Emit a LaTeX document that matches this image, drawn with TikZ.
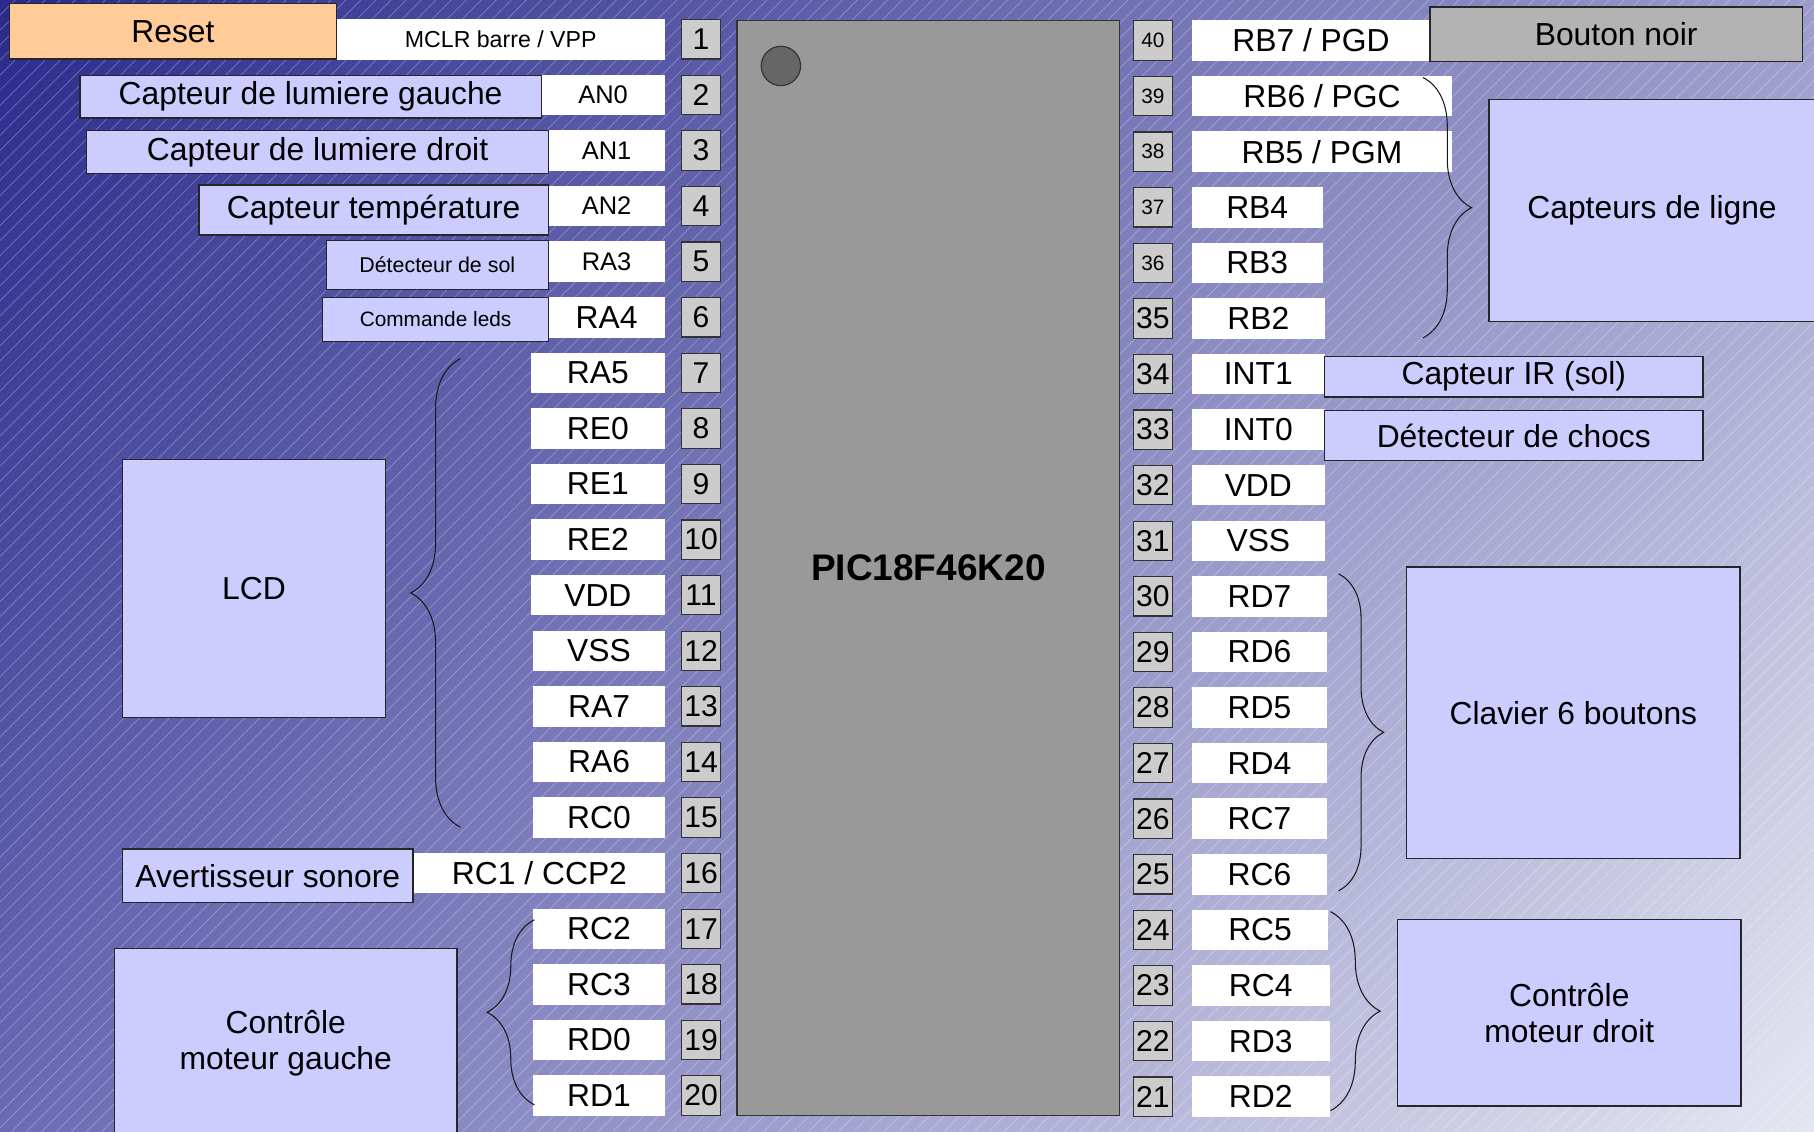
\documentclass[tikz,border=0pt]{standalone}
\usepackage{fontspec}
\setmainfont{Liberation Sans}
\usepackage{xcolor}
\usetikzlibrary{
  positioning, calc,
  decorations.pathreplacing, shadings
}
\definecolor{fondA}{RGB}{42,42,140}
\definecolor{fondB}{RGB}{156,156,204}
\definecolor{fondC}{RGB}{106,106,180}
\definecolor{fondD}{RGB}{230,230,242}
\definecolor{peche}{HTML}{FFCC99}
\definecolor{lavande}{HTML}{CCCCFF}
\definecolor{grisbouton}{HTML}{B3B3B3}
\definecolor{grispuce}{HTML}{999999}
\definecolor{grisnum}{HTML}{CCCCCC}
\tikzset{
  hachure/.style={white, opacity=0.3, line width=0.6pt},
  puce/.style={
    rectangle, draw=black!80, line width=1pt, fill=grispuce,
    minimum width=331, minimum height=946, inner sep=0pt,
    font=\fontsize{32}{32}\selectfont\bfseries
  },
  repere/.style={
    circle, draw=black!80, line width=1pt, fill=black!60,
    minimum size=34, inner sep=0pt
  },
  pinnum/.style={
    rectangle, draw=black!80, line width=1pt, fill=grisnum,
    minimum width=34, minimum height=34, inner sep=0pt,
    font=\fontsize{#1}{#1}\selectfont
  },
  pinnum/.default=26,
  pinnom/.style={
    rectangle, fill=white, minimum height=35, inner sep=0pt,
    font=\fontsize{#1}{#1}\selectfont
  },
  fonc/.style={
    rectangle, draw=black!85, line width=1.2pt, fill=#1,
    inner sep=0pt, align=center,
    font=\fontsize{27.5}{31}\selectfont
  },
  fonc/.default=lavande,
  accolade/.style={
    decorate, decoration={brace, amplitude=#1}, draw=black!90,
    line width=0.9pt
  }
}

\begin{document}
\begin{tikzpicture}[x=1pt, y=-1pt]
  \clip (0,0) rectangle (1568,978);
  % fond
  \shade[upper left=fondA, upper right=fondB,
         lower left=fondC, lower right=fondD] (0,0) rectangle (1568,978);
  \foreach \c in {-978,-965,...,1568}
    \draw[hachure] (\c,978) -- ++(978,-978);

  % circuit
  \node[puce] (chip) at (802.5,491) {PIC18F46K20};
  \node[repere] (dot) at (675,57) {};

  % broches de gauche
  \foreach \num/\lbl/\xl/\fs in {
    1/{MCLR barre / VPP}/291/20, 2/AN0/468/22, 3/AN1/474/22,
    4/AN2/474/22, 5/RA3/474/22, 6/RA4/474/27.5,
    7/RA5/459/27.5, 8/RE0/459/27.5, 9/RE1/459/27.5,
    10/RE2/459/27.5, 11/VDD/459/27.5, 12/VSS/461/27.5,
    13/RA7/461/27.5, 14/RA6/461/27.5, 15/RC0/461/27.5,
    16/{RC1 / CCP2}/358/27.5, 17/RC2/461/27.5, 18/RC3/461/27.5,
    19/RD0/461/27.5, 20/RD1/461/27.5}{
    \pgfmathsetmacro\yy{34+48.05*(\num-1)}
    \node[pinnum] (n\num) at (606,\yy) {\num};
    \node[pinnom=\fs, anchor=east, minimum width=575-\xl]
      (p\num) at (575,\yy) {\lbl};
  }

  % broches de droite
  \foreach \num/\lbl/\xr/\nf in {
    40/{RB7 / PGD}/1236/18, 39/{RB6 / PGC}/1255/18,
    38/{RB5 / PGM}/1255/18, 37/RB4/1143/18, 36/RB3/1143/18,
    35/RB2/1145/26, 34/INT1/1145/26, 33/INT0/1145/26,
    32/VDD/1145/26, 31/VSS/1145/26, 30/RD7/1147/26,
    29/RD6/1147/26, 28/RD5/1147/26, 27/RD4/1147/26,
    26/RC7/1147/26, 25/RC6/1147/26, 24/RC5/1148/26,
    23/RC4/1149/26, 22/RD3/1149/26, 21/RD2/1149/26}{
    \pgfmathsetmacro\yy{35+48.05*(40-\num)}
    \node[pinnum=\nf] (n\num) at (996.5,\yy) {\num};
    \node[pinnom=27.5, anchor=west, minimum width=\xr-1030]
      (p\num) at (1030,\yy) {\lbl};
  }

  % peripheriques a gauche
  \node[fonc=peche, minimum width=283, minimum height=48]
    (reset) at (149.5,27) {Reset};
  \node[fonc, minimum width=399, minimum height=37]
    (lumg) at (268.5,83.5) {Capteur de lumiere gauche};
  \node[fonc, minimum width=399, minimum height=37]
    (lumd) at (274.5,131.5) {Capteur de lumiere droit};
  \node[fonc, minimum width=302, minimum height=43]
    (temp) at (323,181.5) {Capteur température};
  \node[fonc, minimum width=192, minimum height=42,
        font=\fontsize{18.5}{20}\selectfont]
    (sol) at (378,229) {Détecteur de sol};
  \node[fonc, minimum width=195, minimum height=38,
        font=\fontsize{18}{20}\selectfont]
    (leds) at (376.5,276) {Commande leds};
  \node[fonc, minimum width=227, minimum height=223]
    (lcd) at (219.5,508.5) {LCD};
  \node[fonc, minimum width=251, minimum height=46]
    (sonore) at (231.5,757) {Avertisseur sonore};
  \node[fonc, minimum width=296, minimum height=164]
    (motg) at (247,902) {Contrôle\\moteur gauche};

  % peripheriques a droite
  \node[fonc=grisbouton, minimum width=322, minimum height=47]
    (bouton) at (1397,29.5) {Bouton noir};
  \node[fonc, minimum width=282, minimum height=192]
    (ligne) at (1428,182) {Capteurs de ligne};
  \node[fonc, minimum width=327, minimum height=35]
    (ir) at (1308.5,325.5) {Capteur IR (sol)};
  \node[fonc, minimum width=327, minimum height=43]
    (chocs) at (1308.5,376.5) {Détecteur de chocs};
  \node[fonc, minimum width=288, minimum height=252]
    (clavier) at (1360,616) {Clavier 6 boutons};
  \node[fonc, minimum width=297, minimum height=161]
    (motd) at (1356.5,875.5) {Contrôle\\moteur droit};

  % accolades
  \coordinate (lcdhaut) at (398,310);
  \coordinate (lcdbas) at (398,715);
  \coordinate (mghaut) at (462,795);
  \coordinate (mgbas) at (462,955);
  \coordinate (lghaut) at (1230,67);
  \coordinate (lgbas) at (1230,292);
  \coordinate (clhaut) at (1157,496);
  \coordinate (clbas) at (1157,770);
  \coordinate (mdhaut) at (1150,788);
  \coordinate (mdbas) at (1150,960);
  \draw[accolade=43pt] (lcdbas) -- (lcdhaut);
  \draw[accolade=41pt] (mgbas) -- (mghaut);
  \draw[accolade=42pt] (lghaut) -- (lgbas);
  \draw[accolade=39pt] (clhaut) -- (clbas);
  \draw[accolade=43pt] (mdhaut) -- (mdbas);
\end{tikzpicture}
\end{document}
